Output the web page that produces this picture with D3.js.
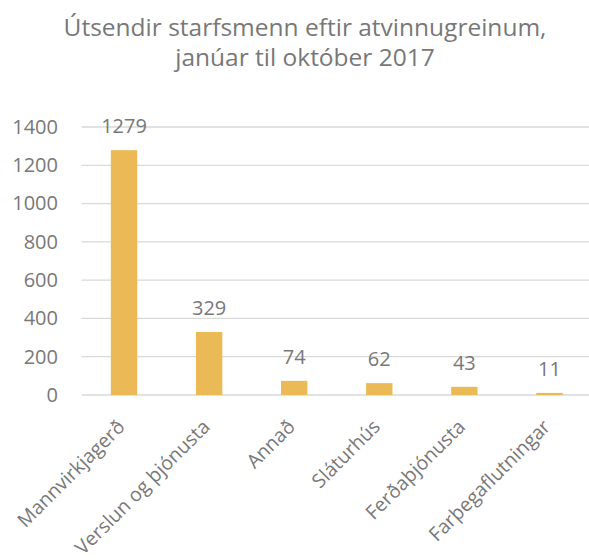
<!DOCTYPE html>
<html>
<head>
<meta charset='utf-8' />
<title>Útsendir starfsmenn</title>
<style>
  body { margin: 0; background: #fff; }
  svg text { font-family: 'Open Sans', sans-serif; fill: #787878; }
</style>
</head>
<body>
<div id="chart"></div>
<script src='https://d3js.org/d3.v7.min.js' charset='utf-8'></script>
<script>
  const categories = ['Mannvirkjagerð', 'Verslun og þjónusta', 'Annað', 'Sláturhús', 'Ferðaþjónusta', 'Farþegaflutningar']
  const values = [1279, 329, 74, 62, 43, 11]
  const yTicks = [0, 200, 400, 600, 800, 1000, 1200, 1400]
  const titleLines = ['Útsendir starfsmenn eftir atvinnugreinum,', 'janúar til október 2017']

  const width = 589, height = 560
  const margin = { top: 127, right: -3, bottom: 165, left: 81.5 }

  const svg = d3.select('#chart')
    .append('svg')
      .attr('width', width)
      .attr('height', height)

  const x = d3.scaleBand()
    .domain(categories)
    .range([margin.left, width - margin.right])
    .paddingInner(0.69)
    .paddingOuter(0.345)

  const y = d3.scaleLinear()
    .domain([0, 1400])
    .range([height - margin.bottom, margin.top])

  // title
  svg.append('g')
    .selectAll('text')
    .data(titleLines)
    .join('text')
      .attr('x', 305)
      .attr('y', (d, i) => 36 + i * 30)
      .attr('text-anchor', 'middle')
      .style('font-size', '24.5px')
      .text(d => d)

  // gridlines
  svg.append('g')
    .selectAll('line')
    .data(yTicks)
    .join('line')
      .attr('x1', margin.left)
      .attr('x2', width)
      .attr('y1', d => y(d))
      .attr('y2', d => y(d))
      .attr('stroke', '#d9d9d9')
      .attr('stroke-width', 1.3)

  // y axis labels
  const yAxis = d3.axisLeft(y).tickValues(yTicks).tickFormat(d3.format('d')).tickSize(0).tickPadding(0)
  svg.append('g')
    .attr('transform', `translate(58,0)`)
    .call(yAxis)
    .call(g => g.select('.domain').remove())
    .selectAll('text')
      .style('font-size', '20px')
      .style('font-family', "'Open Sans', sans-serif")
      .attr('fill', '#787878')

  // bars
  svg.append('g')
    .selectAll('rect')
    .data(values)
    .join('rect')
      .attr('x', (d, i) => x(categories[i]))
      .attr('y', d => y(d))
      .attr('width', x.bandwidth())
      .attr('height', d => y(0) - y(d))
      .attr('fill', '#ebba56')

  // value labels
  svg.append('g')
    .selectAll('text')
    .data(values)
    .join('text')
      .attr('x', (d, i) => x(categories[i]) + x.bandwidth() / 2)
      .attr('y', d => y(d) - 17)
      .attr('text-anchor', 'middle')
      .style('font-size', '20px')
      .text(d => d)

  // x axis labels, rotated
  const xAxis = d3.axisBottom(x).tickSize(0).tickPadding(0)
  svg.append('g')
    .attr('transform', `translate(0,${y(0)})`)
    .call(xAxis)
    .call(g => g.select('.domain').remove())
    .selectAll('text')
      .style('font-size', '19.5px')
      .style('font-family', "'Open Sans', sans-serif")
      .attr('fill', '#787878')
      .attr('text-anchor', 'end')
      .attr('dy', 0)
      .attr('transform', 'translate(2,33) rotate(-45)')
</script>
</body>
</html>
